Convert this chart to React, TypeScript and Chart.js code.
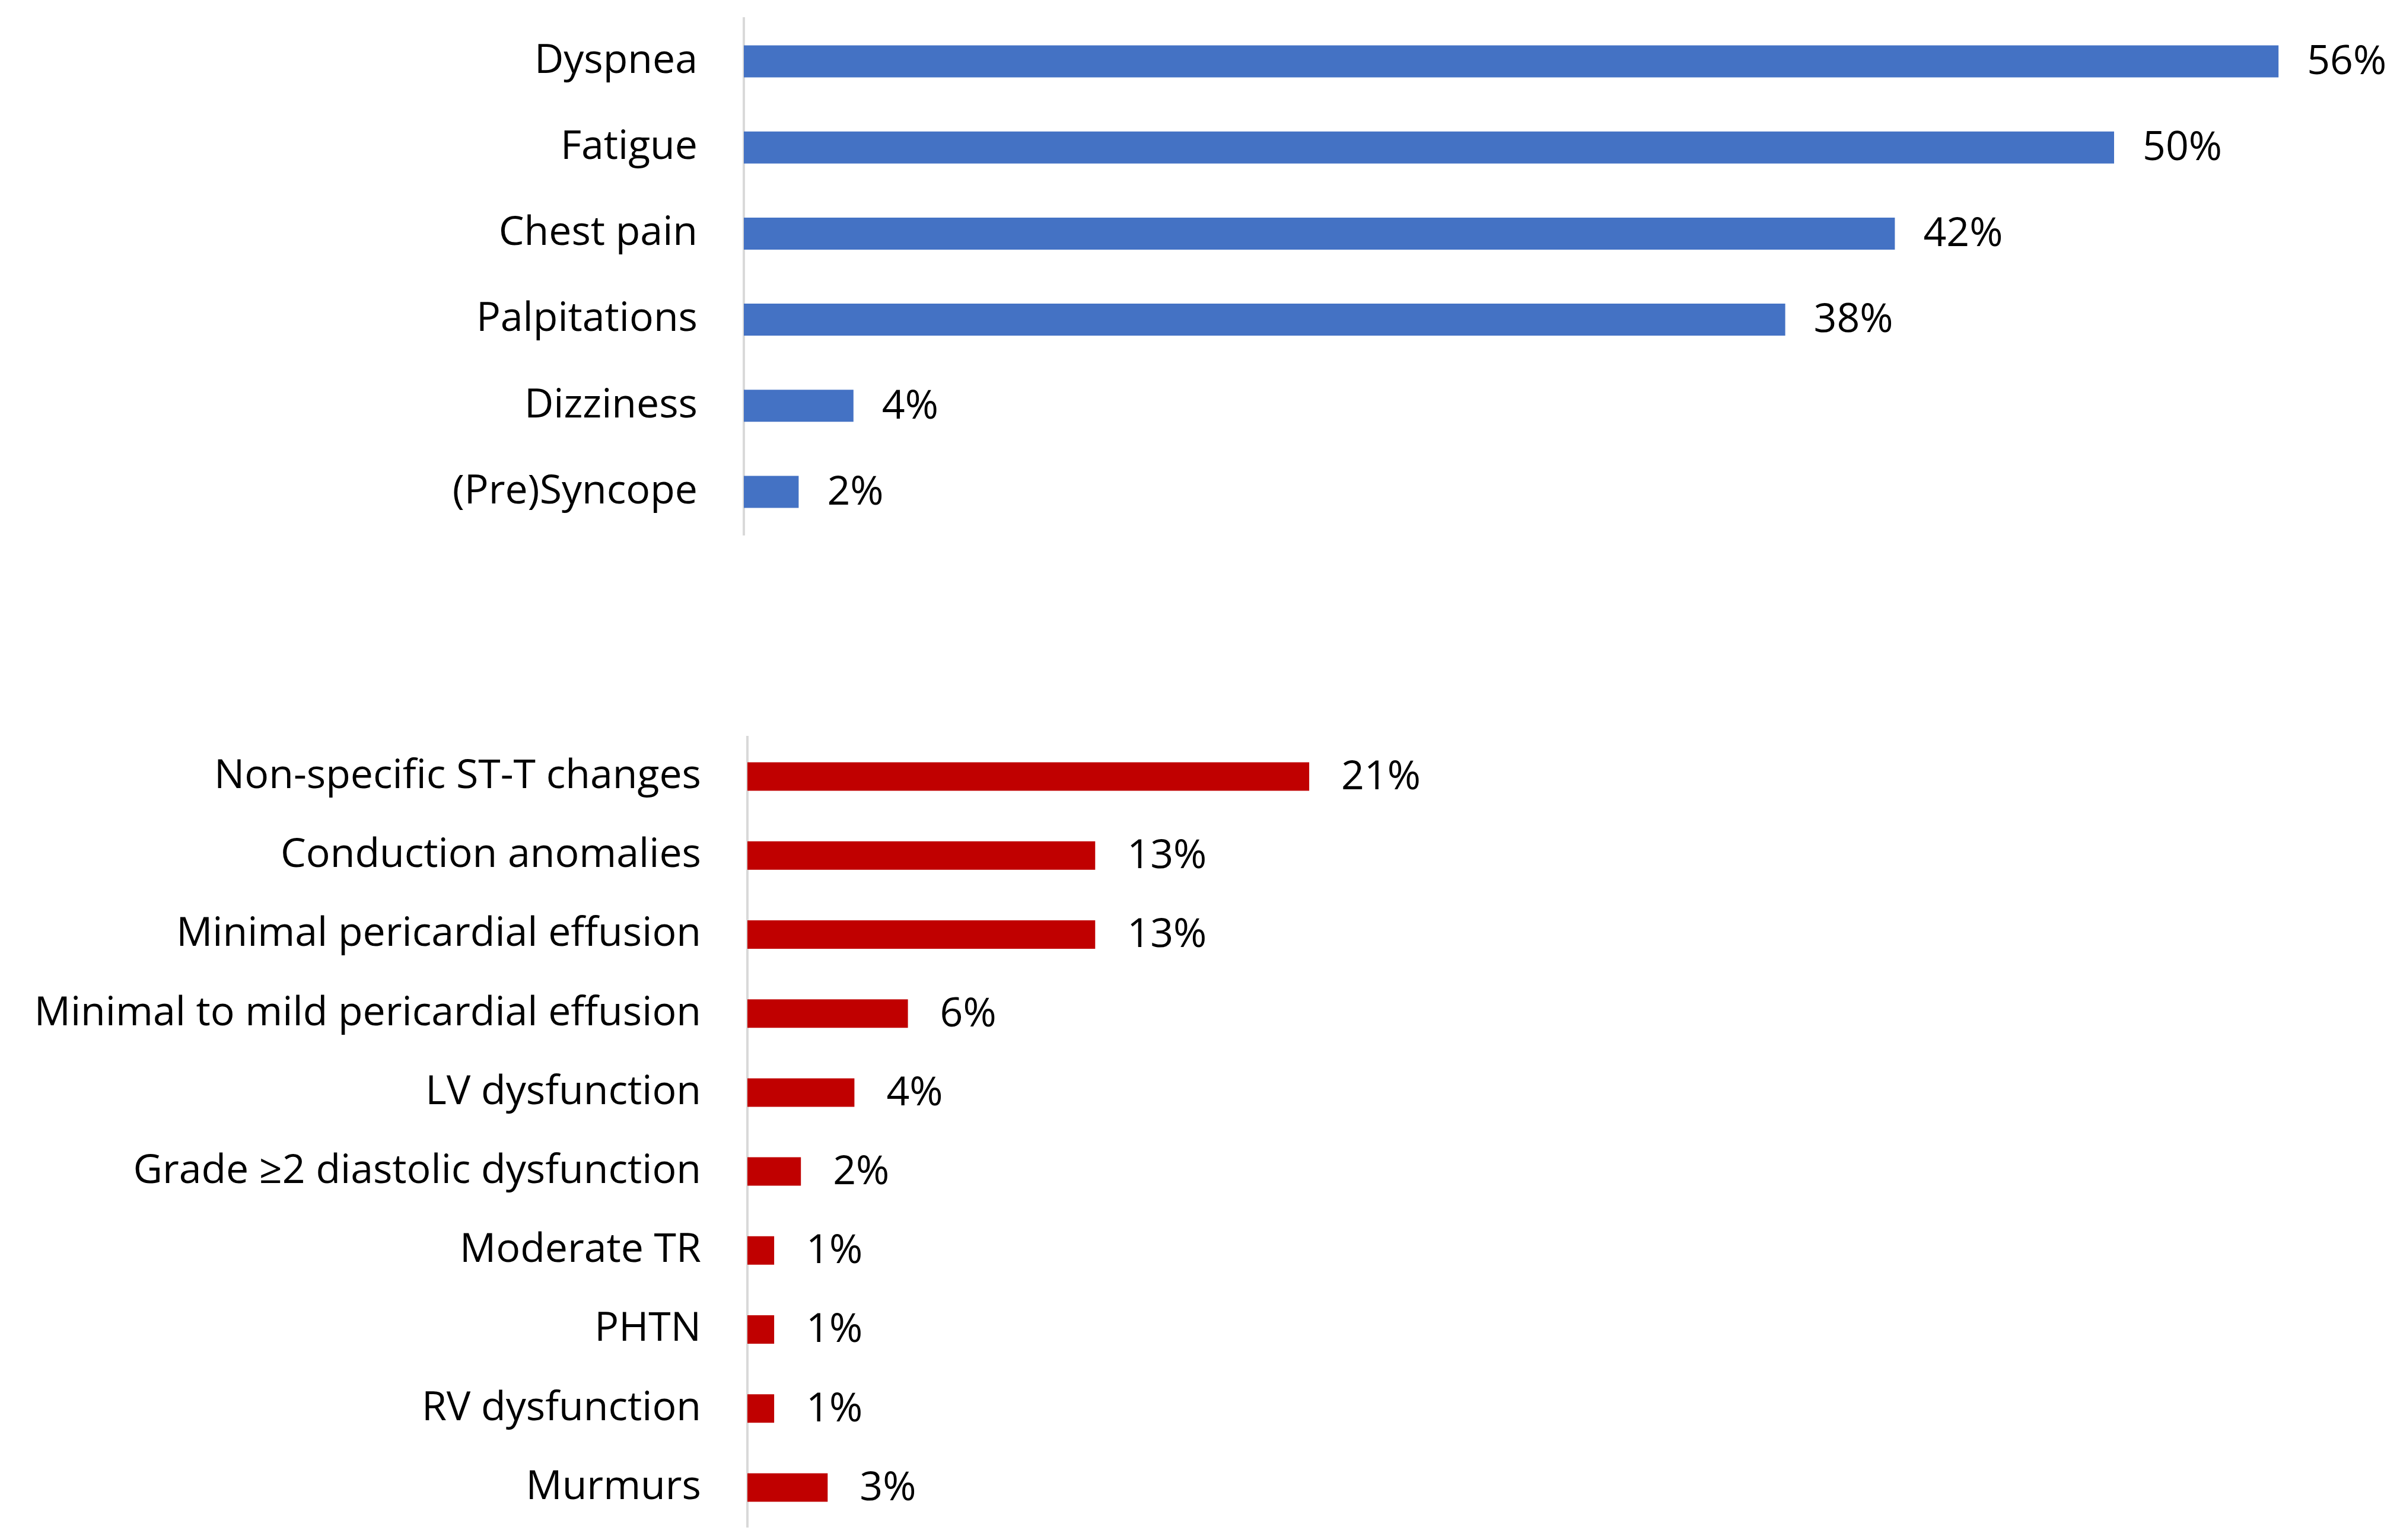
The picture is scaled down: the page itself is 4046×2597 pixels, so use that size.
import React, { useEffect, useRef } from "react";
import { Chart, registerables } from "chart.js";

Chart.register(...registerables);

const symptomLabels = ["Dyspnea", "Fatigue", "Chest pain", "Palpitations", "Dizziness", "(Pre)Syncope"];
const symptomValues = [56, 50, 42, 38, 4, 2];

const findingLabels = [
  "Non-specific ST-T changes",
  "Conduction anomalies",
  "Minimal pericardial effusion",
  "Minimal to mild pericardial effusion",
  "LV dysfunction",
  "Grade \u22652 diastolic dysfunction",
  "Moderate TR",
  "PHTN",
  "RV dysfunction",
  "Murmurs",
];
const findingValues = [21, 13, 13, 6, 4, 2, 1, 1, 1, 3];

const FONT_FAMILY = "'Open Sans', sans-serif";
const FONT_SIZE = 68;

const valueLabelPlugin = {
  id: "valueLabels",
  afterDatasetsDraw(chart: any) {
    const ctx = chart.ctx;
    const gap = chart.options.plugins.valueLabels?.gap ?? 50;
    ctx.save();
    ctx.font = `${FONT_SIZE}px ${FONT_FAMILY}`;
    ctx.fillStyle = "#000000";
    ctx.textAlign = "left";
    ctx.textBaseline = "middle";
    chart.data.datasets.forEach((ds: any, di: number) => {
      const meta = chart.getDatasetMeta(di);
      meta.data.forEach((bar: any, i: number) => {
        ctx.fillText(`${ds.data[i]}%`, bar.x + gap, bar.y + 2);
      });
    });
    ctx.restore();
  },
};

type BarProps = {
  labels: string[];
  values: number[];
  color: string;
  axisWidth: number;
  max: number;
  barPct: number;
  padding: { top: number; bottom: number; right: number };
  gap: number;
  style: React.CSSProperties;
};

function HBar({ labels, values, color, axisWidth, max, barPct, padding, gap, style }: BarProps) {
  const ref = useRef<HTMLCanvasElement | null>(null);
  useEffect(() => {
    if (!ref.current) return;
    const chart = new Chart(ref.current, {
      type: "bar",
      data: {
        labels,
        datasets: [
          {
            data: values,
            backgroundColor: color,
            borderWidth: 0,
            categoryPercentage: 1,
            barPercentage: barPct,
          },
        ],
      },
      options: {
        indexAxis: "y",
        animation: false,
        responsive: false,
        maintainAspectRatio: false,
        devicePixelRatio: 1,
        layout: { padding: { left: 0, top: padding.top, bottom: padding.bottom, right: padding.right } },
        plugins: {
          legend: { display: false },
          tooltip: { enabled: false },
          valueLabels: { gap },
        } as any,
        scales: {
          x: { display: false, min: 0, max },
          y: {
            afterFit: (scale: any) => {
              scale.width = axisWidth;
              scale.paddingTop = 0;
              scale.paddingBottom = 0;
            },
            grid: { display: false, drawTicks: false },
            border: { display: true, color: "#d9d9d9", width: 4 },
            ticks: {
              padding: 78,
              color: "#000000",
              font: { family: FONT_FAMILY, size: FONT_SIZE },
            },
          },
        },
      } as any,
      plugins: [valueLabelPlugin],
    });
    return () => chart.destroy();
  }, []);
  const w = style.width as number;
  const h = style.height as number;
  return <canvas ref={ref} width={w} height={h} style={{ position: "absolute", ...style }} />;
}

export default function App() {
  return (
    <div style={{ position: "absolute", left: 0, top: 0, width: 4046, height: 2597, background: "#ffffff" }}>
      <HBar
        labels={symptomLabels}
        values={symptomValues}
        color="#4472C4"
        axisWidth={1254}
        max={60}
        barPct={0.372}
        padding={{ top: 31, bottom: 38, right: 20 }}
        gap={48}
        style={{ left: 0, top: 0, width: 4046, height: 940 }}
      />
      <HBar
        labels={findingLabels}
        values={findingValues}
        color="#C00000"
        axisWidth={1260}
        max={60}
        barPct={0.36}
        padding={{ top: 43, bottom: 22, right: 80 }}
        gap={54}
        style={{ left: 0, top: 1200, width: 4046, height: 1397 }}
      />
    </div>
  );
}
